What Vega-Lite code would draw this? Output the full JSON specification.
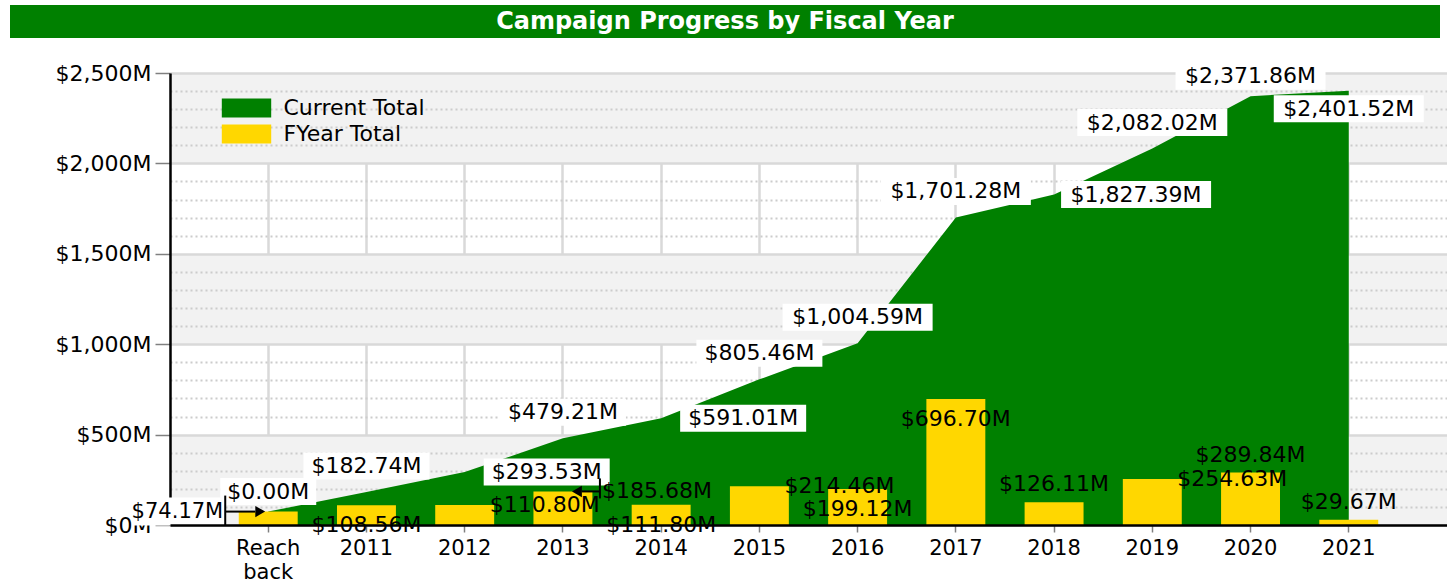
{
  "$schema": "https://vega.github.io/schema/vega-lite/v6.json",
  "background": "white",
  "padding": {"left": 10, "top": 5, "right": 0, "bottom": 0},
  "config": {
    "font": "DejaVu Sans",
    "view": {"stroke": null}
  },
  "datasets": {
    "campaign": [
      {"year": "Reach back", "fy": 74.17, "cur": 74.17, "curLabel": "$0.00M"},
      {"year": "2011", "fy": 108.56, "cur": 182.74, "curLabel": "$182.74M"},
      {"year": "2012", "fy": 110.80, "cur": 293.53, "curLabel": "$293.53M"},
      {"year": "2013", "fy": 185.68, "cur": 479.21, "curLabel": "$479.21M"},
      {"year": "2014", "fy": 111.80, "cur": 591.01, "curLabel": "$591.01M"},
      {"year": "2015", "fy": 214.46, "cur": 805.46, "curLabel": "$805.46M"},
      {"year": "2016", "fy": 199.12, "cur": 1004.59, "curLabel": "$1,004.59M"},
      {"year": "2017", "fy": 696.70, "cur": 1701.28, "curLabel": "$1,701.28M"},
      {"year": "2018", "fy": 126.11, "cur": 1827.39, "curLabel": "$1,827.39M"},
      {"year": "2019", "fy": 254.63, "cur": 2082.02, "curLabel": "$2,082.02M"},
      {"year": "2020", "fy": 289.84, "cur": 2371.86, "curLabel": "$2,371.86M"},
      {"year": "2021", "fy": 29.67, "cur": 2401.52, "curLabel": "$2,401.52M"}
    ]
  },
  "spacing": 24,
  "resolve": {"legend": {"fill": "independent"}},
  "vconcat": [
    {
      "width": 1430,
      "height": 33,
      "view": {"fill": "#008000", "stroke": null},
      "data": {"values": [{"title": "Campaign Progress by Fiscal Year"}]},
      "mark": {"type": "text", "color": "white", "fontWeight": "bold", "fontSize": 24, "font": "DejaVu Sans", "baseline": "middle", "align": "center"},
      "encoding": {"text": {"field": "title", "type": "nominal"}}
    },
    {
      "width": 1437,
      "height": 452,
      "view": {"fill": "white", "stroke": null},
      "data": {"name": "campaign"},
      "transform": [
        {"calculate": "'$' + format(datum.fy, ',.2f') + 'M'", "as": "fyLabel"}
      ],
      "resolve": {"axis": {"y": "independent", "x": "independent"}},
      "layer": [
        {
          "mark": {"type": "area", "opacity": 1, "interpolate": "linear"},
          "encoding": {
            "x": {
              "field": "year", "type": "ordinal",
              "scale": {"type": "band", "domain": ["Reach back", "2011", "2012", "2013", "2014", "2015", "2016", "2017", "2018", "2019", "2020", "2021"], "paddingInner": 0.4, "paddingOuter": 0.7, "range": [160, 1437]},
              "axis": {
                "orient": "bottom", "title": null, "labelAngle": 0, "labelFontSize": 21, "labelColor": "black", "labelPadding": 5,
                "labelBaseline": "top", "labelLineHeight": 24,
                "labelExpr": "datum.value == 'Reach back' ? ['Reach', 'back'] : datum.label",
                "domain": false,
                "tickColor": "#808080", "tickSize": 7, "tickWidth": 1.5,
                "grid": true, "gridColor": "#d9d9d9", "gridWidth": 2.5
              }
            },
            "y": {
              "field": "cur", "type": "quantitative", "stack": null,
              "scale": {"domain": [0, 2500], "nice": false, "zero": true},
              "axis": {"orient": "left", "offset": -160, "title": null, "values": [250, 1250, 2250], "grid": true, "gridColor": "#f2f2f2", "gridWidth": 90.4, "gridCap": "butt", "labels": false, "ticks": false, "domain": false}
            },
            "fill": {
              "datum": "Current Total", "type": "nominal",
              "scale": {"domain": ["Current Total", "FYear Total"], "range": ["#008000", "#FFD700"]},
              "legend": {
                "orient": "none", "legendX": 225.5, "legendY": 24, "title": null, "padding": 0,
                "symbolType": "M-2.6,-1H2.6V1H-2.6Z", "symbolSize": 361, "symbolStrokeWidth": 0,
                "labelFontSize": 22, "labelColor": "black", "labelOffset": 26, "rowPadding": 4
              }
            }
          }
        },
        {
          "mark": {"type": "bar", "opacity": 1},
          "encoding": {
            "x": {"field": "year", "type": "ordinal", "axis": {"orient": "bottom", "title": null, "labels": false, "ticks": false, "grid": false, "domain": true, "domainColor": "black", "domainWidth": 2.5, "zindex": 1}},
            "y": {
              "field": "fy", "type": "quantitative", "stack": null,
              "axis": {"orient": "left", "offset": -160, "title": null, "values": [100, 200, 300, 400, 600, 700, 800, 900, 1100, 1200, 1300, 1400, 1600, 1700, 1800, 1900, 2100, 2200, 2300, 2400], "grid": true, "gridColor": "#cccccc", "gridDash": [2, 3], "gridWidth": 2, "labels": false, "ticks": false, "domain": false}
            },
            "fill": {"datum": "FYear Total", "type": "nominal"}
          }
        },
        {
          "transform": [{"filter": {"field": "year", "oneOf": ["2011", "2013", "2015", "2016", "2017", "2019"]}}],
          "mark": {"type": "tick", "orient": "horizontal", "color": "white", "opacity": 1, "thickness": 27, "yOffset": -26},
          "encoding": {
            "x": {"field": "year", "type": "ordinal", "axis": null},
            "y": {"field": "cur", "type": "quantitative", "axis": null},
            "size": {"field": "cur", "type": "quantitative", "scale": {"type": "threshold", "domain": [100, 1000], "range": [96, 126, 150]}, "legend": null}
          }
        },
        {
          "transform": [{"filter": {"field": "year", "oneOf": ["Reach back", "2020"]}}],
          "mark": {"type": "tick", "orient": "horizontal", "color": "white", "opacity": 1, "thickness": 27, "yOffset": -20},
          "encoding": {
            "x": {"field": "year", "type": "ordinal", "axis": null},
            "y": {"field": "cur", "type": "quantitative", "axis": null},
            "size": {"field": "cur", "type": "quantitative", "scale": {"type": "threshold", "domain": [100, 1000], "range": [96, 126, 150]}, "legend": null}
          }
        },
        {
          "transform": [{"filter": {"field": "year", "oneOf": ["2012", "2014", "2018"]}}],
          "mark": {"type": "tick", "orient": "horizontal", "color": "white", "opacity": 1, "thickness": 27, "xOffset": 82},
          "encoding": {
            "x": {"field": "year", "type": "ordinal", "axis": null},
            "y": {"field": "cur", "type": "quantitative", "axis": null},
            "size": {"field": "cur", "type": "quantitative", "scale": {"type": "threshold", "domain": [100, 1000], "range": [96, 126, 150]}, "legend": null}
          }
        },
        {
          "transform": [{"filter": {"field": "year", "oneOf": ["2021"]}}],
          "mark": {"type": "tick", "orient": "horizontal", "color": "white", "opacity": 1, "thickness": 27, "yOffset": 18},
          "encoding": {
            "x": {"field": "year", "type": "ordinal", "axis": null},
            "y": {"field": "cur", "type": "quantitative", "axis": null},
            "size": {"field": "cur", "type": "quantitative", "scale": {"type": "threshold", "domain": [100, 1000], "range": [96, 126, 150]}, "legend": null}
          }
        },
        {
          "transform": [{"filter": {"field": "year", "oneOf": ["Reach back"]}}],
          "mark": {"type": "tick", "orient": "horizontal", "color": "white", "opacity": 1, "thickness": 28, "size": 92, "xOffset": -90},
          "encoding": {
            "x": {"field": "year", "type": "ordinal", "axis": null},
            "y": {"field": "fy", "type": "quantitative", "axis": null}
          }
        },
        {
          "transform": [{"filter": {"field": "year", "oneOf": ["2011", "2013", "2015", "2016", "2017", "2019"]}}],
          "mark": {"type": "text", "fontSize": 22, "color": "black", "align": "center", "baseline": "middle", "dy": -26},
          "encoding": {
            "x": {"field": "year", "type": "ordinal", "axis": null},
            "y": {
              "field": "cur", "type": "quantitative",
              "axis": {
                "orient": "left", "offset": -160, "title": null,
                "values": [0, 500, 1000, 1500, 2000, 2500],
                "labelExpr": "'$' + format(datum.value, ',') + 'M'",
                "labelFontSize": 22, "labelColor": "black", "labelPadding": 4,
                "grid": true, "gridColor": "#d9d9d9", "gridWidth": 2.5,
                "domain": true, "domainColor": "black", "domainWidth": 2.5,
                "ticks": true, "tickColor": "#808080", "tickSize": 15, "tickWidth": 1.5
              }
            },
            "text": {"field": "curLabel", "type": "nominal"}
          }
        },
        {
          "transform": [{"filter": {"field": "year", "oneOf": ["Reach back", "2020"]}}],
          "mark": {"type": "text", "fontSize": 22, "color": "black", "align": "center", "baseline": "middle", "dy": -20},
          "encoding": {
            "x": {"field": "year", "type": "ordinal", "axis": null},
            "y": {"field": "cur", "type": "quantitative", "axis": null},
            "text": {"field": "curLabel", "type": "nominal"}
          }
        },
        {
          "transform": [{"filter": {"field": "year", "oneOf": ["2012", "2014", "2018"]}}],
          "mark": {"type": "text", "fontSize": 22, "color": "black", "align": "center", "baseline": "middle", "dx": 82},
          "encoding": {
            "x": {"field": "year", "type": "ordinal", "axis": null},
            "y": {"field": "cur", "type": "quantitative", "axis": null},
            "text": {"field": "curLabel", "type": "nominal"}
          }
        },
        {
          "transform": [{"filter": {"field": "year", "oneOf": ["2021"]}}],
          "mark": {"type": "text", "fontSize": 22, "color": "black", "align": "center", "baseline": "middle", "dy": 18},
          "encoding": {
            "x": {"field": "year", "type": "ordinal", "axis": null},
            "y": {"field": "cur", "type": "quantitative", "axis": null},
            "text": {"field": "curLabel", "type": "nominal"}
          }
        },
        {
          "transform": [{"filter": {"field": "year", "oneOf": ["2011", "2014", "2016", "2017"]}}],
          "mark": {"type": "text", "fontSize": 22, "color": "black", "align": "center", "baseline": "middle", "dy": 20},
          "encoding": {
            "x": {"field": "year", "type": "ordinal", "axis": null},
            "y": {"field": "fy", "type": "quantitative", "axis": null},
            "text": {"field": "fyLabel", "type": "nominal"}
          }
        },
        {
          "transform": [{"filter": {"field": "year", "oneOf": ["2018", "2020", "2021"]}}],
          "mark": {"type": "text", "fontSize": 22, "color": "black", "align": "center", "baseline": "middle", "dy": -18},
          "encoding": {
            "x": {"field": "year", "type": "ordinal", "axis": null},
            "y": {"field": "fy", "type": "quantitative", "axis": null},
            "text": {"field": "fyLabel", "type": "nominal"}
          }
        },
        {
          "transform": [{"filter": {"field": "year", "oneOf": ["2012", "2015", "2019"]}}],
          "mark": {"type": "text", "fontSize": 22, "color": "black", "align": "center", "baseline": "middle", "dx": 80},
          "encoding": {
            "x": {"field": "year", "type": "ordinal", "axis": null},
            "y": {"field": "fy", "type": "quantitative", "axis": null},
            "text": {"field": "fyLabel", "type": "nominal"}
          }
        },
        {
          "transform": [{"filter": {"field": "year", "oneOf": ["Reach back"]}}],
          "mark": {"type": "text", "fontSize": 21, "color": "black", "align": "right", "baseline": "middle", "dx": -45},
          "encoding": {
            "x": {"field": "year", "type": "ordinal", "axis": null},
            "y": {"field": "fy", "type": "quantitative", "axis": null},
            "text": {"field": "fyLabel", "type": "nominal"}
          }
        },
        {
          "transform": [{"filter": {"field": "year", "oneOf": ["2013"]}}],
          "mark": {"type": "text", "fontSize": 22, "color": "black", "align": "left", "baseline": "middle", "dx": 39},
          "encoding": {
            "x": {"field": "year", "type": "ordinal", "axis": null},
            "y": {"field": "fy", "type": "quantitative", "axis": null},
            "text": {"field": "fyLabel", "type": "nominal"}
          }
        },
        {
          "transform": [{"filter": {"field": "year", "oneOf": ["Reach back"]}}],
          "mark": {"type": "rule", "color": "black", "strokeWidth": 2, "xOffset": -43, "yOffset": -16, "y2Offset": 14},
          "encoding": {
            "x": {"field": "year", "type": "ordinal", "axis": null},
            "y": {"field": "fy", "type": "quantitative", "axis": null},
            "y2": {"field": "fy"}
          }
        },
        {
          "transform": [{"filter": {"field": "year", "oneOf": ["Reach back"]}}],
          "mark": {"type": "tick", "orient": "horizontal", "color": "black", "opacity": 1, "thickness": 2, "size": 30, "xOffset": -28},
          "encoding": {
            "x": {"field": "year", "type": "ordinal", "axis": null},
            "y": {"field": "fy", "type": "quantitative", "axis": null}
          }
        },
        {
          "transform": [{"filter": {"field": "year", "oneOf": ["Reach back"]}}],
          "mark": {"type": "point", "shape": "triangle-right", "filled": true, "color": "black", "opacity": 1, "size": 130, "xOffset": -8},
          "encoding": {
            "x": {"field": "year", "type": "ordinal", "axis": null},
            "y": {"field": "fy", "type": "quantitative", "axis": null}
          }
        },
        {
          "transform": [{"filter": {"field": "year", "oneOf": ["2013"]}}],
          "mark": {"type": "rule", "color": "black", "strokeWidth": 2, "xOffset": 37, "yOffset": -13, "y2Offset": 7},
          "encoding": {
            "x": {"field": "year", "type": "ordinal", "axis": null},
            "y": {"field": "fy", "type": "quantitative", "axis": null},
            "y2": {"field": "fy"}
          }
        },
        {
          "transform": [{"filter": {"field": "year", "oneOf": ["2013"]}}],
          "mark": {"type": "tick", "orient": "horizontal", "color": "black", "opacity": 1, "thickness": 2, "size": 18, "xOffset": 28},
          "encoding": {
            "x": {"field": "year", "type": "ordinal", "axis": null},
            "y": {"field": "fy", "type": "quantitative", "axis": null}
          }
        },
        {
          "transform": [{"filter": {"field": "year", "oneOf": ["2013"]}}],
          "mark": {"type": "point", "shape": "triangle-left", "filled": true, "color": "black", "opacity": 1, "size": 130, "xOffset": 14},
          "encoding": {
            "x": {"field": "year", "type": "ordinal", "axis": null},
            "y": {"field": "fy", "type": "quantitative", "axis": null}
          }
        }
      ]
    }
  ]
}
